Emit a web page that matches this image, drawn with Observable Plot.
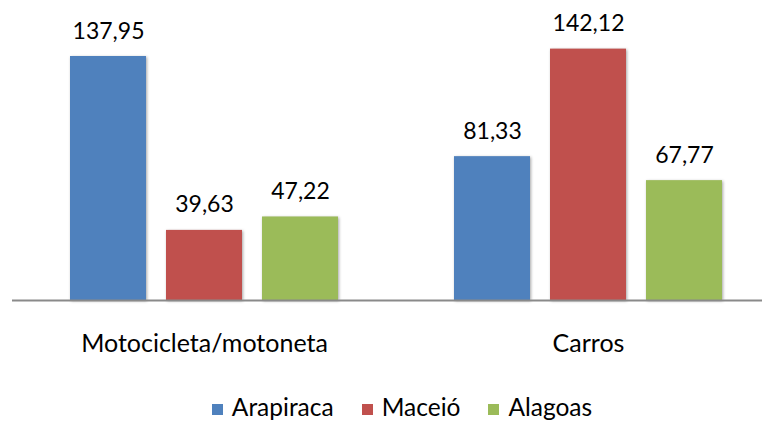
<!DOCTYPE html>
<html>
<head>
<meta charset="utf-8">
<script src="https://cdn.jsdelivr.net/npm/d3@7"></script>
<script src="https://cdn.jsdelivr.net/npm/@observablehq/plot@0.6"></script>
<style>
  html, body { margin: 0; padding: 0; background: #fff; overflow: hidden; }
  #chart { width: 762px; height: 424px; position: relative; font-family: Lato, "Open Sans", sans-serif; }
  #chart svg g[aria-label="bar"] rect { filter: drop-shadow(1.5px 1.5px 1.5px rgba(0,0,0,0.35)); }
  .legend { position: absolute; left: 0; top: 395px; width: 762px; display: flex; justify-content: center; align-items: center; padding-left: 42px; box-sizing: border-box; font-size: 24.5px; line-height: 1; color: #000; }
  .legend .item { display: flex; align-items: center; margin-right: 28px; }
  .legend .item:last-child { margin-right: 0; }
  .legend .sw { width: 11px; height: 11px; margin-right: 9px; margin-top: 4px; }
</style>
</head>
<body>
<div id="chart"></div>
<script>
const categories = ["Motocicleta/motoneta", "Carros"];
const series = ["Arapiraca", "Maceió", "Alagoas"];
const colors = ["#4F81BD", "#C0504D", "#9BBB59"];
const arapiraca = [137.95, 81.33];
const maceio = [39.63, 142.12];
const alagoas = [47.22, 67.77];

const valuesBySeries = [arapiraca, maceio, alagoas];
const data = [];
categories.forEach((c, ci) => {
  series.forEach((s, si) => {
    data.push({category: c, series: s, value: valuesBySeries[si][ci]});
  });
});
const fmt = v => v.toFixed(2).replace(".", ",");

const chart = Plot.plot({
  width: 762,
  height: 370,
  marginTop: 17,
  marginBottom: 70,
  marginLeft: 12,
  marginRight: 0,
  style: {fontFamily: "Lato, 'Open Sans', sans-serif", fontSize: "25px", color: "#000", background: "transparent", overflow: "visible"},
  fx: {domain: categories, range: [12, 780], padding: 0, label: null, axis: "bottom", tickSize: 0, tickPadding: 34},
  x: {domain: series, paddingInner: 0.21, paddingOuter: 0.6, axis: null},
  y: {domain: [0, 160], axis: null},
  color: {domain: series, range: colors},
  marks: [
    Plot.barY(data, {fx: "category", x: "series", y: "value", fill: "series"}),
    Plot.ruleY([0], {stroke: "#8a8a8a", strokeWidth: 2}),
    Plot.text(data, {fx: "category", x: "series", y: "value", text: d => fmt(d.value), lineAnchor: "bottom", dy: -18, fill: "#000", fontSize: 23})
  ]
});
document.getElementById("chart").appendChild(chart);

const legend = document.createElement("div");
legend.className = "legend";
series.forEach((s, i) => {
  const item = document.createElement("div");
  item.className = "item";
  const sw = document.createElement("span");
  sw.className = "sw";
  sw.style.background = colors[i];
  const label = document.createElement("span");
  label.textContent = s;
  item.appendChild(sw);
  item.appendChild(label);
  legend.appendChild(item);
});
document.getElementById("chart").appendChild(legend);
</script>
</body>
</html>
